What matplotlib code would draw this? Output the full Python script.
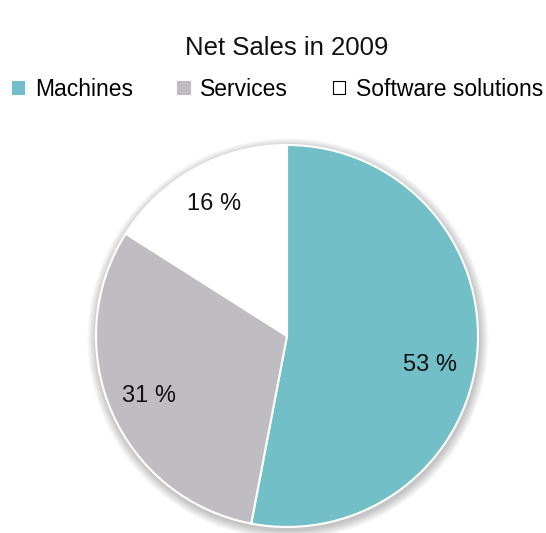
import matplotlib.pyplot as plt
from matplotlib.patches import Circle, Patch

labels = ['Machines', 'Services', 'Software solutions']
shares = [53, 31, 16]
colours = ['#72BFC8', '#C0BDC2', '#FFFFFF']

plt.rcParams['font.family'] = ['Liberation Sans', 'DejaVu Sans']

fig = plt.figure(figsize=(5.46, 5.33), dpi=100)
fig.patch.set_facecolor('white')
ax = fig.add_axes([0.1758, 0.0113, 0.6996, 0.7167])

# soft drop shadow under the pie
for i in range(10):
    ax.add_patch(Circle((0.005, -0.014), 1.0 + 0.005 * (10 - i),
                        color='black', alpha=0.025, lw=0, zorder=0,
                        clip_on=False))

wedges, texts, autotexts = ax.pie(
    shares, colors=colours, startangle=90, counterclock=False,
    autopct=lambda p: '%d %%' % round(p), pctdistance=0.79,
    wedgeprops=dict(edgecolor='white', linewidth=1.5),
    textprops=dict(fontsize=17, color='#111111'))
for w in wedges:
    w.set_zorder(2)
    w.set_clip_on(False)
for t in autotexts:
    t.set_zorder(3)
# machines label sits a little lower in the wedge
autotexts[0].set_position((0.75, -0.15))

ax.set_xlim(-1, 1)
ax.set_ylim(-1, 1)
ax.set_aspect('equal')
ax.axis('off')

fig.text(0.525, 0.91, 'Net Sales in 2009', ha='center', va='center',
         fontsize=18.5, color='#111111')

handles = [Patch(facecolor=c, edgecolor=c, linewidth=0.8) for c in colours]
handles[2].set_edgecolor('black')
fig.legend(handles, labels, loc='center', bbox_to_anchor=(0.508, 0.833), ncol=3,
           frameon=False, fontsize=16.5, handlelength=0.55, handleheight=0.55,
           handletextpad=0.45, columnspacing=1.95)

fig.savefig('out.png', dpi=100, facecolor='white')
